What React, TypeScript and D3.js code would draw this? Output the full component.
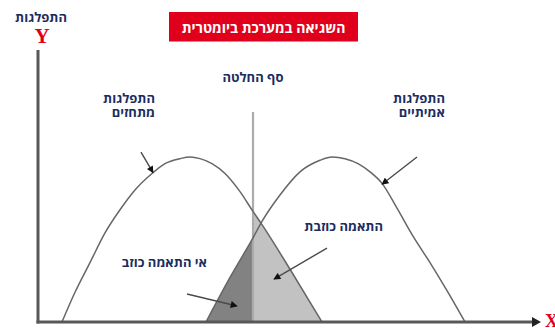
import React from "react";
import * as d3 from "d3";

// ---- data (score units on x, relative density on y) ----
const impostorX = [4.8, 7.4, 10.4, 13.4, 16.4, 19.4, 22.8, 25.4, 28.4, 30.4, 32.4, 34.8, 37.4, 40.4, 43.0, 44.8, 50.8, 56.8];
const impostorY = [0, 0.18, 0.36, 0.54, 0.68, 0.8, 0.9, 0.96, 0.99, 1.0, 0.99, 0.96, 0.9, 0.79, 0.67, 0.59, 0.3, 0];
const genuineX = [33.6, 38.4, 43.0, 44.8, 48.4, 52.4, 56.4, 58.8, 61.4, 64.0, 66.4, 68.8, 71.8, 75.0, 78.4, 81.8, 85.4];
const genuineY = [0, 0.27, 0.51, 0.61, 0.77, 0.91, 0.98, 1.0, 0.99, 0.96, 0.91, 0.84, 0.69, 0.52, 0.36, 0.19, 0];
const threshold = 43.0;

const titleText = "השגיאה במערכת ביומטרית";
const yAxisTitle = "התפלגות";
const thresholdLabel = "סף החלטה";
const impostorLabel = ["התפלגות", "מתחזים"];
const genuineLabel = ["התפלגות", "אמיתיים"];
const falseMatchLabel = "התאמה כוזבת";
const falseNonMatchLabel = "אי התאמה כוזב";

type P = { x: number; y: number };
const impostor: P[] = impostorX.map((x, i) => ({ x, y: impostorY[i] }));
const genuine: P[] = genuineX.map((x, i) => ({ x, y: genuineY[i] }));

const W = 555;
const H = 328;
const NAVY = "#1b2d5f";
const RED = "#e0001b";
const FONT = "'Open Sans', 'Liberation Sans', 'DejaVu Sans', sans-serif";

export default function App() {
  const x = d3.scaleLinear().domain([0, 100]).range([38, 538]);
  const y = d3.scaleLinear().domain([0, 1]).range([322, 157]);

  const line = d3
    .line<P>()
    .x((d) => x(d.x))
    .y((d) => y(d.y))
    .curve(d3.curveMonotoneX);
  const area = d3
    .area<P>()
    .x((d) => x(d.x))
    .y0(y(0))
    .y1((d) => y(d.y))
    .curve(d3.curveMonotoneX);

  const dark = genuine.filter((d) => d.x <= threshold);
  const light = impostor.filter((d) => d.x >= threshold);

  // annotation arrows in data units: [from, to]
  const arrows: [P, P][] = [
    [{ x: 20.6, y: 1.03 }, { x: 23.0, y: 0.905 }],
    [{ x: 75.8, y: 1.0 }, { x: 68.8, y: 0.835 }],
    [{ x: 57.8, y: 0.448 }, { x: 47.2, y: 0.26 }],
    [{ x: 29.8, y: 0.17 }, { x: 39.8, y: 0.097 }],
  ];

  const tx = x(threshold);
  const baseY = y(0);

  return (
    <svg
      width={W}
      height={H}
      viewBox={`0 0 ${W} ${H}`}
      style={{ position: "absolute", left: 0, top: 0, background: "#fff" }}
    >
      <defs>
        <marker
          id="ah"
          viewBox="0 0 10 10"
          refX="9"
          refY="5"
          markerWidth="8"
          markerHeight="7"
          markerUnits="userSpaceOnUse"
          orient="auto"
        >
          <path d="M0,0 L10,5 L0,10 Z" fill="#111" />
        </marker>
      </defs>
      <rect width={W} height={H} fill="#fff" />

      {/* shaded error regions */}
      <path d={area(dark) || ""} fill="#828282" />
      <path d={area(light) || ""} fill="#c2c2c2" />

      {/* threshold line */}
      <line x1={tx} x2={tx} y1={112} y2={baseY} stroke="#ababab" strokeWidth={2.2} />

      {/* curves */}
      <path d={line(impostor) || ""} fill="none" stroke="#666" strokeWidth={1.5} />
      <path d={line(genuine) || ""} fill="none" stroke="#666" strokeWidth={1.5} />

      {/* axes */}
      <line x1={38} x2={38} y1={50} y2={baseY + 1.5} stroke="#585858" strokeWidth={3} />
      <line x1={36.5} x2={534} y1={baseY} y2={baseY} stroke="#585858" strokeWidth={3} />
      <path d={`M532,${baseY - 5} L541,${baseY} L532,${baseY + 5} Z`} fill="#222" />

      {/* arrows */}
      {arrows.map(([a, b], i) => (
        <line
          key={i}
          x1={x(a.x)}
          y1={y(a.y)}
          x2={x(b.x)}
          y2={y(b.y)}
          stroke="#4a4a4a"
          strokeWidth={1.4}
          markerEnd="url(#ah)"
        />
      ))}

      {/* title box */}
      <rect x={169} y={12} width={189} height={29.5} fill={RED} />
      <text x={263.5} y={33} textAnchor="middle" fill="#fff" fontFamily={FONT} fontWeight={700} fontSize={14}>
        {titleText}
      </text>

      {/* axis titles */}
      <text x={67} y={22} textAnchor="end" fill={NAVY} fontFamily={FONT} fontWeight={700} fontSize={13}>
        {yAxisTitle}
      </text>
      <text x={42} y={43} textAnchor="middle" fill={RED} fontFamily="'Liberation Serif', 'DejaVu Serif', serif" fontWeight={700} fontSize={21}>
        Y
      </text>
      <text x={545} y={326.5} textAnchor="start" fill={RED} fontFamily="'Liberation Serif', 'DejaVu Serif', serif" fontWeight={700} fontSize={18}>
        X
      </text>

      {/* labels */}
      <text x={tx} y={81.5} textAnchor="middle" fill={NAVY} fontFamily={FONT} fontWeight={700} fontSize={13}>
        {thresholdLabel}
      </text>
      {impostorLabel.map((t, i) => (
        <text key={"i" + i} x={155} y={103 + i * 14} textAnchor="end" fill={NAVY} fontFamily={FONT} fontWeight={700} fontSize={13}>
          {t}
        </text>
      ))}
      {genuineLabel.map((t, i) => (
        <text key={"g" + i} x={445} y={103 + i * 14} textAnchor="end" fill={NAVY} fontFamily={FONT} fontWeight={700} fontSize={13}>
          {t}
        </text>
      ))}
      <text x={383} y={230.5} textAnchor="end" fill={NAVY} fontFamily={FONT} fontWeight={700} fontSize={13}>
        {falseMatchLabel}
      </text>
      <text x={207} y={267} textAnchor="end" fill={NAVY} fontFamily={FONT} fontWeight={700} fontSize={13}>
        {falseNonMatchLabel}
      </text>
    </svg>
  );
}
